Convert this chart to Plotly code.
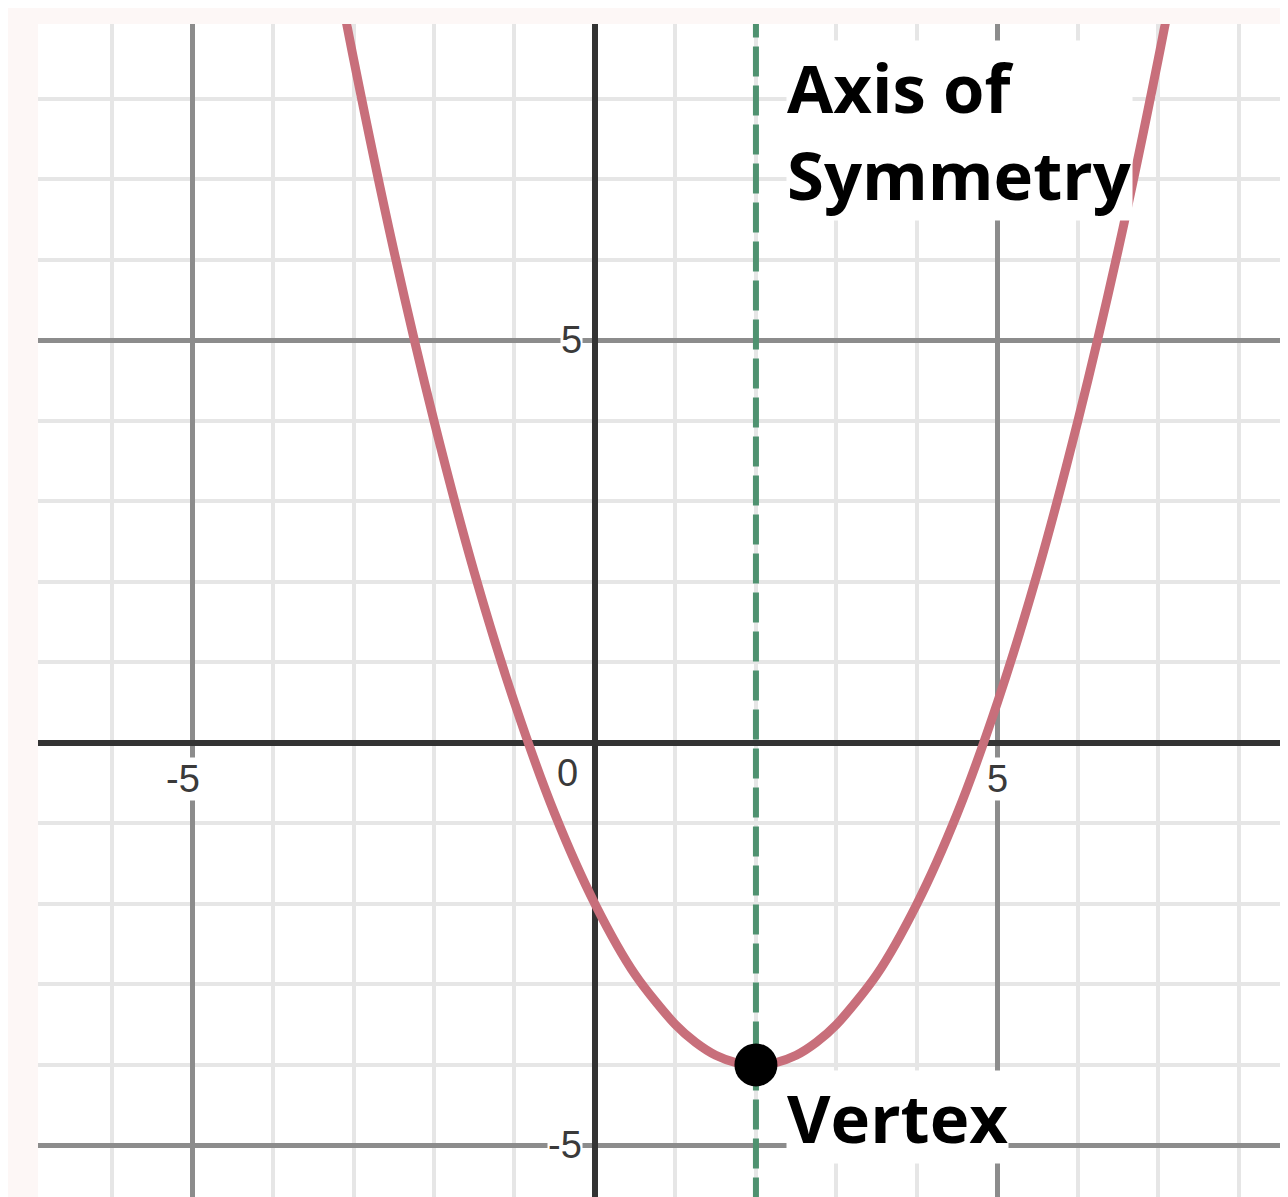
import plotly.graph_objects as go

# Curve points (parabola with vertex at (2, -4))
curve_x = [-3.5, -3.0, -2.5, -2.0, -1.5, -1.0, -0.5, 0.0, 0.5, 1.0, 1.25, 1.5, 1.75, 2.0,
           2.25, 2.5, 2.75, 3.0, 3.5, 4.0, 4.5, 5.0, 5.5, 6.0, 6.5, 7.0, 7.5]
curve_y = [11.12, 8.5, 6.12, 4.0, 2.12, 0.5, -0.88, -2.0, -2.88, -3.5, -3.72, -3.88, -3.97, -4.0,
           -3.97, -3.88, -3.72, -3.5, -2.88, -2.0, -0.88, 0.5, 2.12, 4.0, 6.12, 8.5, 11.12]

vertex_x = [2]
vertex_y = [-4]
axis_of_symmetry_x = 2

x_tick_vals = [-5, 5]
x_tick_text = ["-5", "5"]
y_tick_vals = [5, -5]
y_tick_text = ["5", "-5"]

X_RANGE = [-6.92, 8.71]
Y_RANGE = [-5.74, 8.93]

fig = go.Figure()

# axis of symmetry
fig.add_trace(go.Scatter(
    x=[axis_of_symmetry_x, axis_of_symmetry_x], y=[Y_RANGE[0] - 1, Y_RANGE[1] + 1],
    mode="lines", line=dict(color="#4f9270", width=6, dash="30px,9px"),
    hoverinfo="skip", showlegend=False))

# parabola
fig.add_trace(go.Scatter(
    x=curve_x, y=curve_y, mode="lines",
    line=dict(color="#c86f7b", width=9, shape="spline", smoothing=0.8),
    showlegend=False))

# vertex
fig.add_trace(go.Scatter(
    x=vertex_x, y=vertex_y, mode="markers",
    marker=dict(color="black", size=43),
    showlegend=False))

annotations = []
tick_font = dict(family="Liberation Sans, Arial, sans-serif", size=38, color="#3a3a3a")
for v, t in zip(x_tick_vals, x_tick_text):
    annotations.append(dict(x=v, y=0, xref="x", yref="y", text=t, showarrow=False,
                            xanchor="center", yanchor="top", yshift=-14,
                            xshift=-10 if v < 0 else 0,
                            font=tick_font, bgcolor="white", borderpad=0))
for v, t in zip(y_tick_vals, y_tick_text):
    annotations.append(dict(x=0, y=v, xref="x", yref="y", text=t, showarrow=False,
                            xanchor="right", yanchor="middle", xshift=-12,
                            font=tick_font, bgcolor="white", borderpad=0))
annotations.append(dict(x=0, y=0, xref="x", yref="y", text="0", showarrow=False,
                        xanchor="right", yanchor="top", xshift=-16, yshift=-8,
                        font=tick_font, bgcolor="white", borderpad=0))

label_font = dict(family="Open Sans, Noto Sans, sans-serif", size=67, color="black")
annotations.append(dict(x=axis_of_symmetry_x, y=Y_RANGE[1], xref="x", yref="y",
                        text="<b>Axis of<br>Symmetry</b>", showarrow=False,
                        xanchor="left", yanchor="top", align="left",
                        xshift=30, yshift=-16,
                        font=label_font, bgcolor="white", borderpad=0))
annotations.append(dict(x=vertex_x[0], y=vertex_y[0], xref="x", yref="y",
                        text="<b>Vertex</b>", showarrow=False,
                        xanchor="left", yanchor="middle", align="left",
                        xshift=30, yshift=-52,
                        font=label_font, bgcolor="white", borderpad=0))

axis_common = dict(
    showticklabels=False, ticks="", showline=False,
    tick0=0, dtick=5, showgrid=True, gridcolor="#8c8c8c", gridwidth=5,
    minor=dict(tick0=0, dtick=1, showgrid=True, gridcolor="#e6e6e6", gridwidth=4),
    zeroline=True, zerolinecolor="#333333", zerolinewidth=6,
)

fig.update_layout(
    width=1288, height=1197,
    margin=dict(l=30, r=0, t=16, b=0, pad=0),
    paper_bgcolor="#fdf7f6", plot_bgcolor="white",
    xaxis=dict(range=X_RANGE, **axis_common),
    yaxis=dict(range=Y_RANGE, **axis_common),
    annotations=annotations,
    showlegend=False,
)

fig.write_html("out.html")
